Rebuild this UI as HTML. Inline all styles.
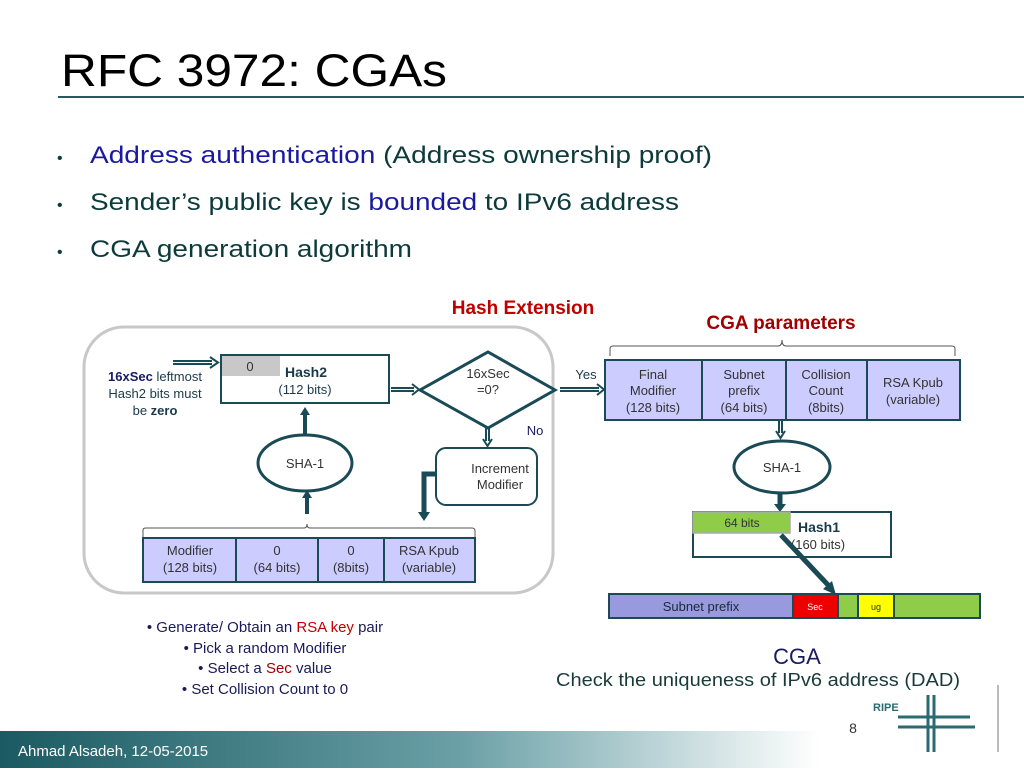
<!DOCTYPE html>
<html><head><meta charset="utf-8"><style>
html,body{margin:0;padding:0;background:#fff}
svg,svg text{font-family:"Liberation Sans",Arial,sans-serif}
</style></head><body>
<svg width="1024" height="768" viewBox="0 0 1024 768" xmlns="http://www.w3.org/2000/svg" font-family="'Liberation Sans', Arial, sans-serif">
<defs>
<linearGradient id="ft" x1="0" x2="1" y1="0" y2="0">
<stop offset="0" stop-color="#1b5a62"/><stop offset="0.45" stop-color="#6aa0a6"/><stop offset="0.8" stop-color="#ffffff"/>
</linearGradient>
</defs>
<text x="61" y="86" font-size="45" fill="#000" textLength="386" lengthAdjust="spacingAndGlyphs">RFC 3972: CGAs</text>
<rect x="58" y="96" width="966" height="2" fill="#2a5a60"/>
<g font-size="24" fill="#0d3b3b">
<text x="57" y="163" font-size="16">•</text>
<text x="90" y="163" textLength="622" lengthAdjust="spacingAndGlyphs"><tspan fill="#1a1aa0">Address authentication</tspan> (Address ownership proof)</text>
<text x="57" y="210" font-size="16">•</text>
<text x="90" y="210" textLength="589" lengthAdjust="spacingAndGlyphs">Sender’s public key is <tspan fill="#1a1aa0">bounded</tspan> to IPv6 address</text>
<text x="57" y="257" font-size="16">•</text>
<text x="90" y="257" textLength="322" lengthAdjust="spacingAndGlyphs">CGA generation algorithm</text>
</g>
<text x="523" y="314" font-size="19" font-weight="bold" fill="#c00000" text-anchor="middle">Hash Extension</text>
<text x="781" y="329" font-size="19" font-weight="bold" fill="#a00000" text-anchor="middle">CGA parameters</text>
<rect x="84" y="327" width="469" height="266" rx="40" fill="none" stroke="#c8c8c8" stroke-width="3"/>
<g font-size="13" fill="#1a3a4a" text-anchor="middle">
<text x="155" y="381"><tspan font-weight="bold" fill="#1a1a60">16xSec</tspan> leftmost</text>
<text x="155" y="398">Hash2 bits must</text>
<text x="155" y="415">be <tspan font-weight="bold">zero</tspan></text>
</g>
<g stroke="#1a4a55" stroke-width="2" fill="none">
<path d="M173,361 H212 M173,364 H212"/><path d="M210,357 L218,362.5 L210,368" />
<path d="M391,388 H414 M391,391 H414"/><path d="M412,384 L419,389.5 L412,395"/>
<path d="M560,388 H599 M560,391 H599"/><path d="M597,384 L604,389.5 L597,395"/>
<path d="M486,428 V441 M489,428 V441"/><path d="M483,439 L487.5,446 L492,439"/>
<path d="M779,420 V433 M782,420 V433"/><path d="M776,431 L780.5,438 L785,431"/>
</g>
<rect x="221" y="355" width="168" height="48" fill="#fff" stroke="#1a4a55" stroke-width="2"/>
<rect x="222" y="356" width="58" height="20" fill="#c8c8c8"/>
<text x="250" y="371" font-size="13" fill="#333" text-anchor="middle">0</text>
<text x="306" y="377" font-size="14" font-weight="bold" fill="#1a3a4a" text-anchor="middle">Hash2</text>
<text x="305" y="394" font-size="13" fill="#1a3a4a" text-anchor="middle">(112 bits)</text>
<polygon points="420,390 488,352 555,390 488,428" fill="#fff" stroke="#1a4a55" stroke-width="3"/>
<text x="488" y="378" font-size="13" fill="#333" text-anchor="middle">16xSec</text>
<text x="488" y="394" font-size="13" fill="#333" text-anchor="middle">=0?</text>
<text x="586" y="379" font-size="13" fill="#1a3a4a" text-anchor="middle">Yes</text>
<text x="535" y="435" font-size="13" fill="#1a1a60" text-anchor="middle">No</text>
<rect x="436" y="448" width="101" height="57" rx="10" fill="#fff" stroke="#1a4a55" stroke-width="2"/>
<text x="500" y="473" font-size="13" fill="#333" text-anchor="middle">Increment</text>
<text x="500" y="489" font-size="13" fill="#333" text-anchor="middle">Modifier</text>
<path d="M436,474 H424 V513" stroke="#1a4a55" stroke-width="5" fill="none"/>
<path d="M418,512 L424,521 L430,512 z" fill="#1a4a55"/>
<ellipse cx="305" cy="463" rx="47" ry="28" fill="#fff" stroke="#1a4a55" stroke-width="3"/>
<text x="305" y="468" font-size="13" fill="#333" text-anchor="middle">SHA-1</text>
<path d="M305,435 V414" stroke="#1a4a55" stroke-width="4"/>
<path d="M300,415 L305,407 L310,415 z" fill="#1a4a55"/>
<path d="M307,514 V497" stroke="#1a4a55" stroke-width="4"/>
<path d="M302,498 L307,490 L312,498 z" fill="#1a4a55"/>
<path d="M143,537 V530 Q143,528 146,528 H304 Q307,528 307,524 Q307,528 310,528 H472 Q475,528 475,531 V537" stroke="#555" stroke-width="1" fill="none"/>
<g stroke="#1a4a55" stroke-width="2" fill="#ccccff">
<rect x="143" y="538" width="93" height="44"/><rect x="236" y="538" width="82" height="44"/>
<rect x="318" y="538" width="66" height="44"/><rect x="384" y="538" width="91" height="44"/>
</g>
<g font-size="13" fill="#333" text-anchor="middle">
<text x="190" y="555">Modifier</text><text x="190" y="572">(128 bits)</text>
<text x="277" y="555">0</text><text x="277" y="572">(64 bits)</text>
<text x="351" y="555">0</text><text x="351" y="572">(8bits)</text>
<text x="429" y="555">RSA Kpub</text><text x="429" y="572">(variable)</text>
</g>
<path d="M610,356 V349 Q610,346 613,346 H778 Q782,346 782,340 Q782,346 786,346 H952 Q955,346 955,349 V356" stroke="#555" stroke-width="1" fill="none"/>
<g stroke="#1a4a55" stroke-width="2" fill="#ccccff">
<rect x="605" y="360" width="97" height="60"/><rect x="702" y="360" width="84" height="60"/>
<rect x="786" y="360" width="81" height="60"/><rect x="867" y="360" width="93" height="60"/>
</g>
<g font-size="13" fill="#333" text-anchor="middle">
<text x="653" y="379">Final</text><text x="653" y="395">Modifier</text><text x="653" y="412">(128 bits)</text>
<text x="744" y="379">Subnet</text><text x="744" y="395">prefix</text><text x="744" y="412">(64 bits)</text>
<text x="826" y="379">Collision</text><text x="826" y="395">Count</text><text x="826" y="412">(8bits)</text>
<text x="913" y="387">RSA Kpub</text><text x="913" y="404">(variable)</text>
</g>
<ellipse cx="782" cy="467" rx="48" ry="26" fill="#fff" stroke="#1a4a55" stroke-width="3"/>
<text x="782" y="472" font-size="13" fill="#333" text-anchor="middle">SHA-1</text>
<path d="M780,494 V505" stroke="#1a4a55" stroke-width="5"/>
<path d="M774,504 L780,512 L786,504 z" fill="#1a4a55"/>
<rect x="693" y="512" width="198" height="45" fill="#fff" stroke="#1a4a55" stroke-width="2"/>
<rect x="693" y="512" width="97" height="21" fill="#8fcc4a" stroke="#aaa" stroke-width="1.5"/>
<text x="742" y="527" font-size="12" fill="#333" text-anchor="middle">64 bits</text>
<text x="819" y="532" font-size="14" font-weight="bold" fill="#1a3a4a" text-anchor="middle">Hash1</text>
<text x="818" y="549" font-size="13" fill="#333" text-anchor="middle">(160 bits)</text>
<path d="M781,535 L829,586" stroke="#1a4a55" stroke-width="5"/>
<path d="M823,589 L836,595 L832,581 z" fill="#1a4a55"/>
<g stroke="#1a4a55" stroke-width="2">
<rect x="609" y="594" width="184" height="24" fill="#9999dd"/>
<rect x="793" y="594" width="45" height="24" fill="#ee0000"/>
<rect x="838" y="594" width="20" height="24" fill="#8fcc4a"/>
<rect x="858" y="594" width="36" height="24" fill="#ffff00"/>
<rect x="894" y="594" width="86" height="24" fill="#8fcc4a"/>
</g>
<text x="701" y="611" font-size="13" fill="#1a2a3a" text-anchor="middle">Subnet prefix</text>
<text x="815" y="610" font-size="9" fill="#fff" text-anchor="middle">Sec</text>
<text x="876" y="610" font-size="9" fill="#333" text-anchor="middle">ug</text>
<text x="797" y="664" font-size="22" fill="#1a1a60" text-anchor="middle">CGA</text>
<text x="758" y="686" font-size="18" fill="#1a3a3a" text-anchor="middle" textLength="404" lengthAdjust="spacingAndGlyphs">Check the uniqueness of IPv6 address (DAD)</text>
<g font-size="15" fill="#1a1a5a" text-anchor="middle">
<text x="265" y="632">• Generate/ Obtain an <tspan fill="#c00000">RSA key</tspan> pair</text>
<text x="265" y="653">• Pick a random Modifier</text>
<text x="265" y="673">• Select a <tspan fill="#a00000">Sec</tspan> value</text>
<text x="265" y="694">• Set Collision Count to 0</text>
</g>
<rect x="0" y="731" width="1024" height="37" fill="url(#ft)"/>
<text x="18" y="756" font-size="15" fill="#fff">Ahmad Alsadeh, 12-05-2015</text>
<text x="853" y="733" font-size="14" fill="#333" text-anchor="middle">8</text>
<text x="873" y="711" font-size="11" font-weight="bold" fill="#2a6a70">RIPE</text>
<g stroke="#2a6a70" stroke-width="3">
<path d="M928,695 V752 M934,695 V752 M898,717 H970 M898,727 H975"/>
</g>
<path d="M998,685 V752" stroke="#777" stroke-width="1"/>
</svg>
</body></html>
